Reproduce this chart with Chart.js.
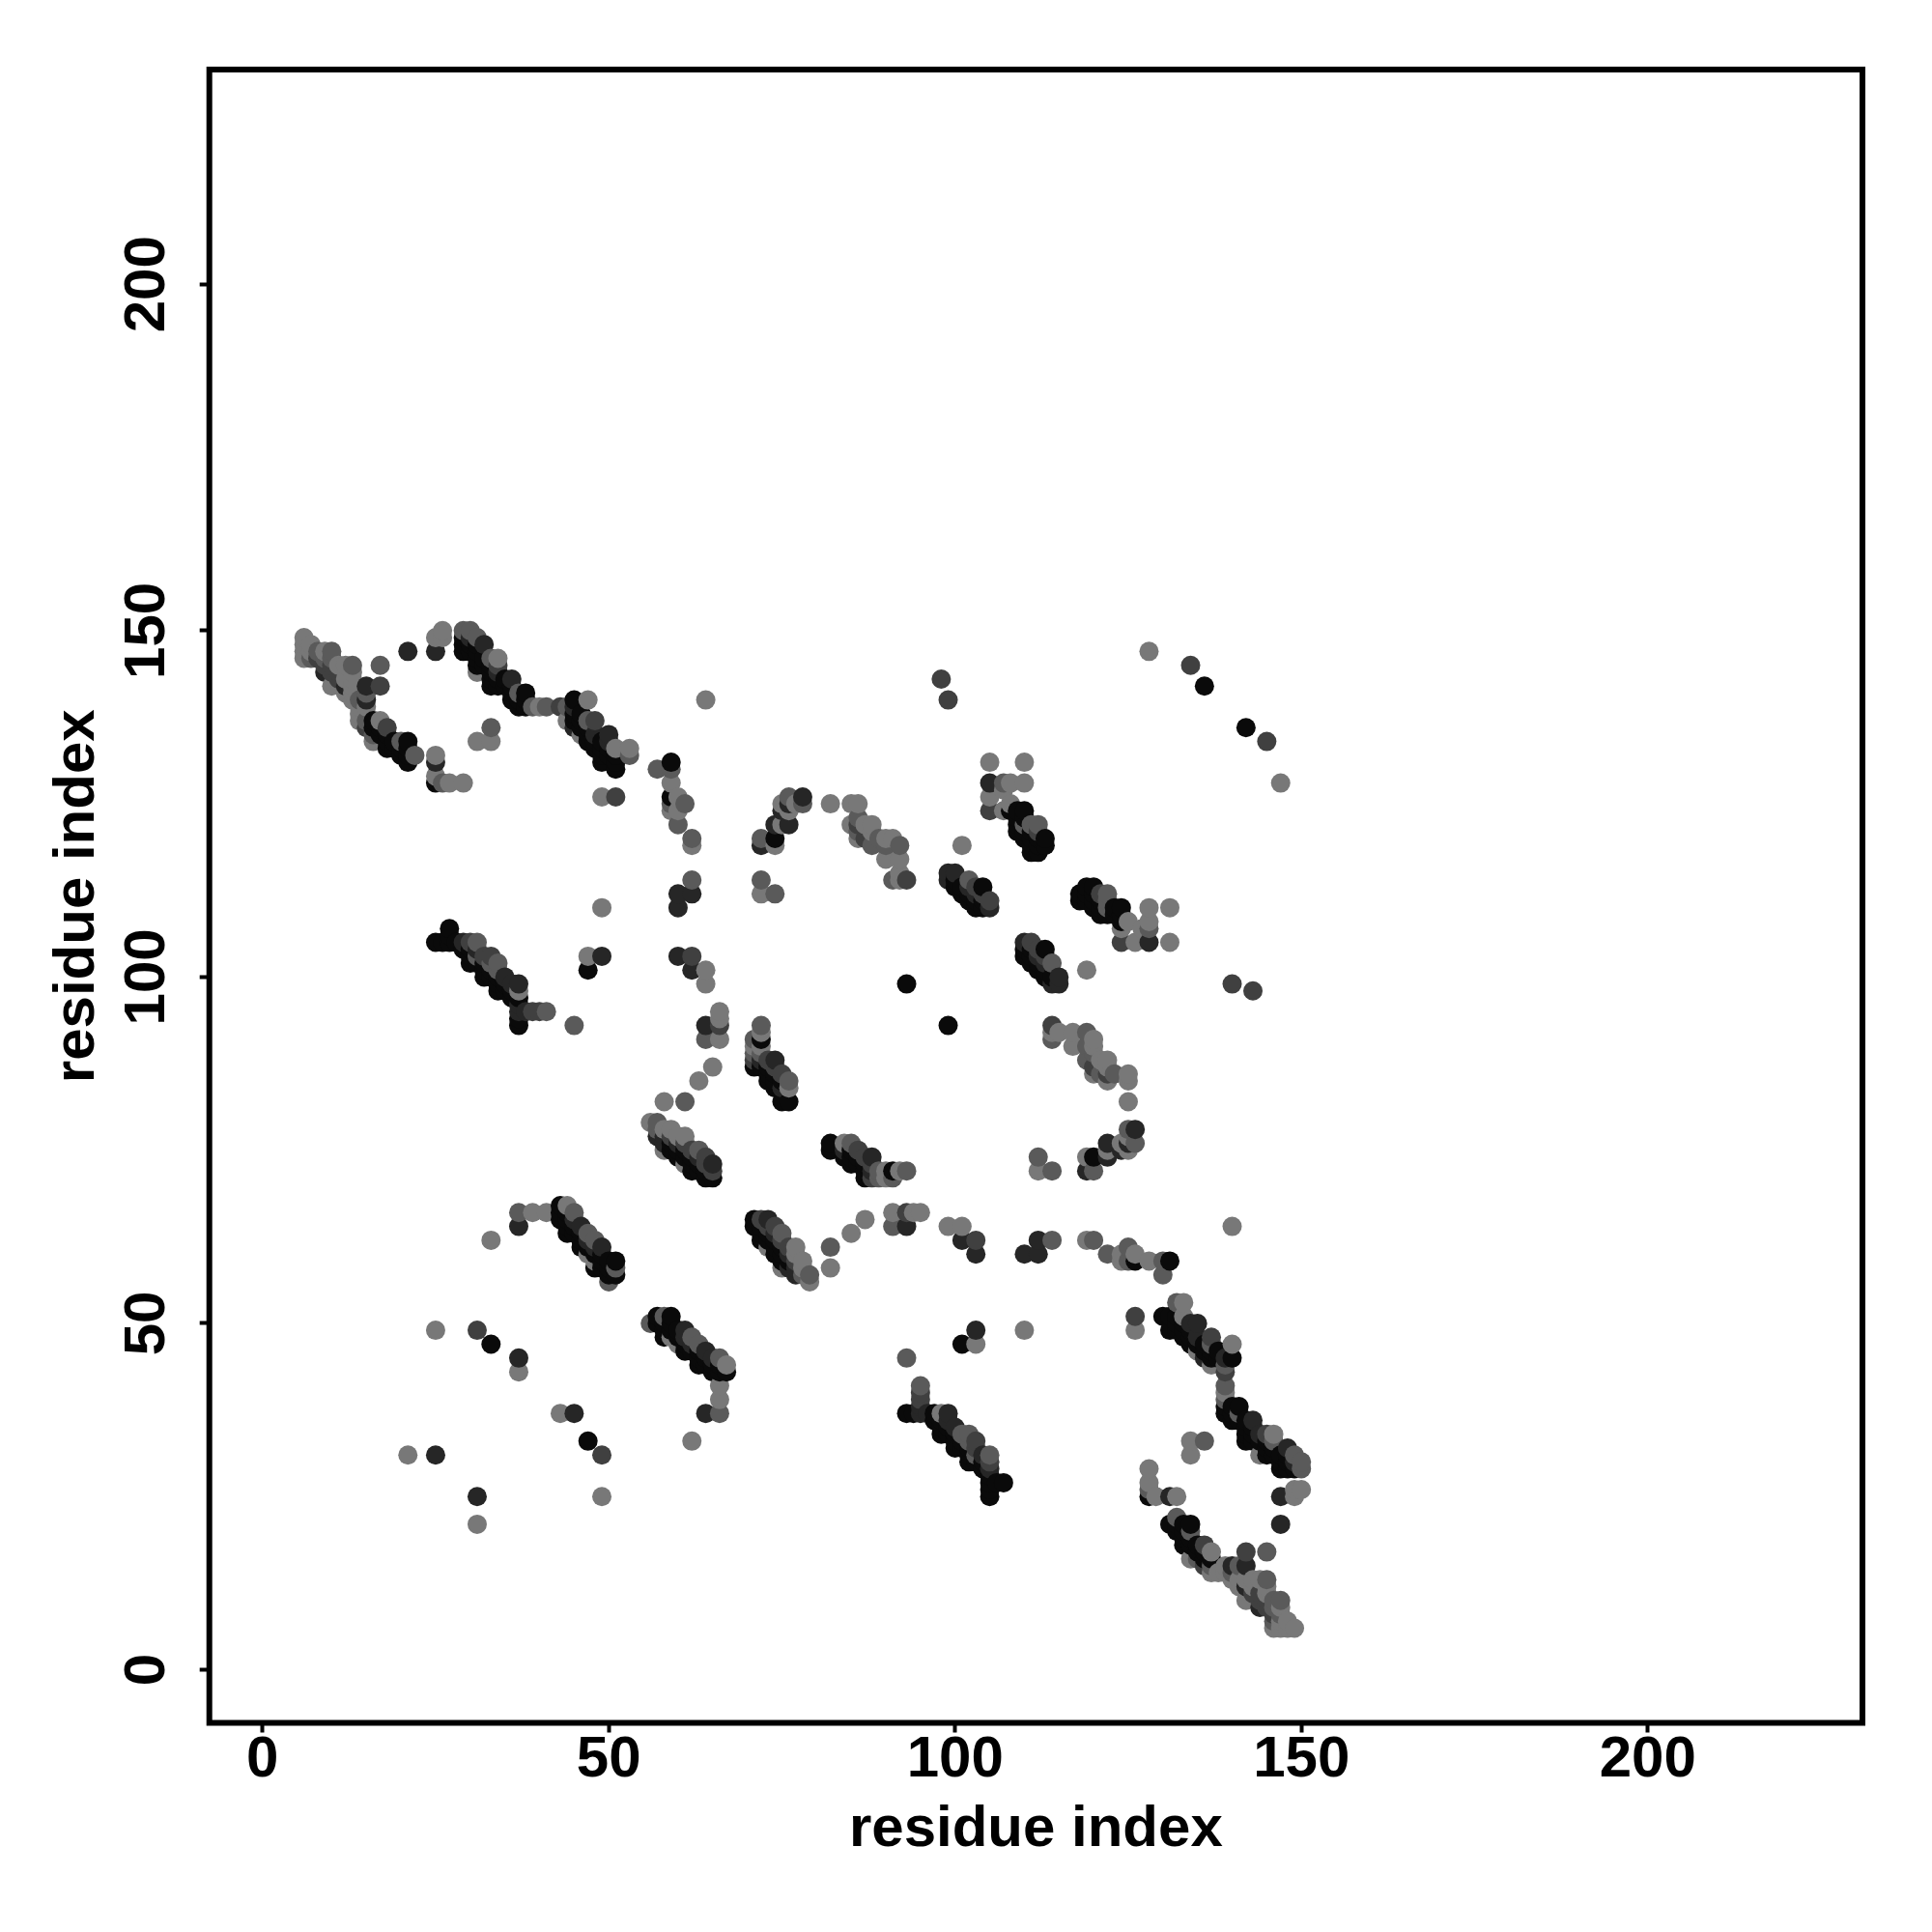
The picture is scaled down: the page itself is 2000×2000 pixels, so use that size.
<!DOCTYPE html>
<html>
<head>
<meta charset="utf-8">
<title>residue contacts</title>
<script src="https://cdn.jsdelivr.net/npm/chart.js@4/dist/chart.umd.min.js"></script>
<style>
  html, body { margin: 0; padding: 0; background: #fff; }
</style>
</head>
<body>
<canvas id="contactChart" width="2000" height="2000" style="display:block"></canvas>
<script>
const contactsBlack = [
  16,136, 16,137, 17,135, 17,136, 18,133, 18,134, 18,135, 19,133, 19,134, 20,132, 20,133, 21,131, 21,132, 21,133, 21,134, 25,128,
  29,147, 29,148, 29,149, 30,147, 30,148, 31,145, 31,146, 31,147, 31,148, 32,145, 32,146, 33,142, 33,143, 33,144, 33,145,
  34,142, 34,143, 35,142, 35,143, 36,140, 36,141, 36,142, 37,139, 37,140, 38,139, 38,140, 38,141, 45,137, 45,138, 45,140,
  46,136, 46,137, 46,138, 47,134, 47,135, 47,136, 48,133, 48,134, 49,131, 49,132, 49,133, 49,134, 50,132, 50,133, 51,130, 51,131, 51,132,
  25,105, 26,105, 27,105, 27,106, 27,107, 28,105, 29,104, 30,104, 30,103, 30,102, 31,102, 32,102, 32,101, 33,101, 32,100, 33,100, 34,100,
  34,99, 35,99, 34,98, 35,98, 36,97, 36,98, 37,97, 37,93, 37,94, 47,101, 33,47,
  43,65, 43,66, 43,67, 44,63, 44,64, 44,65, 44,66, 45,63, 45,64, 46,61, 46,62, 46,63, 47,61, 48,58, 48,60, 49,58, 49,59, 49,60, 50,57, 50,58, 50,59, 51,57, 51,59,
  59,75, 59,76, 60,74, 60,75, 61,74, 61,75, 62,72, 62,73, 62,74, 63,72, 63,73, 64,71, 64,72, 65,71,
  71,87, 72,87, 72,91, 73,85, 73,86, 73,87, 74,84, 74,85, 74,86, 75,82, 75,85, 76,82, 59,126, 59,131, 74,120, 93,99,
  100,113, 100,114, 101,112, 101,113, 102,111, 102,112, 103,110, 103,111, 104,110, 104,111, 104,113,
  108,124, 109,121, 109,122, 109,123, 109,124, 110,120, 110,121, 110,123, 110,124, 111,118, 111,119, 111,120, 111,121, 112,118, 112,119, 112,120, 113,119, 113,120, 136,142
];
const contactsDark = [
  12,142, 9,144, 15,140, 15,142, 25,131, 25,147, 30,149, 32,148, 34,144, 36,143, 45,136, 45,139, 48,135, 50,134, 50,135,
  29,105, 31,104, 35,100, 36,99, 37,99, 37,95, 37,96, 38,95, 49,103, 25,31, 37,45, 21,147,
  45,65, 46,64, 47,62, 48,61, 49,61, 37,64, 57,77, 58,77, 58,76, 60,76, 63,74, 65,73,
  72,88, 74,88, 75,84, 60,103, 60,110, 60,112, 62,112, 62,101, 64,93,
  72,119, 74,122, 75,124, 76,122, 76,125, 78,126, 99,114, 99,115, 100,115, 102,113, 103,112, 105,110, 105,128
];
const contactsMid = [
  9,145, 10,144, 10,145, 8,146, 11,143, 11,144, 15,136, 17,142, 18,136, 34,145, 43,139, 47,137, 48,137, 51,126,
  30,105, 32,103, 33,103, 39,95, 40,95, 31,49, 59,77, 61,76, 62,75, 64,73, 64,74, 65,72,
  71,88, 73,88, 74,87, 75,86, 62,103, 66,93, 86,122, 87,120, 93,114, 98,143, 99,140,
  103,113, 104,112, 105,111, 105,124, 112,121, 134,145
];
const contactsGrey = [
  7,146, 8,147, 9,146, 10,146, 10,147, 13,145, 14,140, 15,137, 15,141, 16,135, 17,145, 20,134, 22,132, 26,128, 33,136,
  29,150, 30,150, 31,149, 33,146, 37,141, 39,139, 41,139, 44,139, 47,137, 53,132,
  31,105, 31,103, 33,102, 34,101, 34,102, 41,95, 45,93, 37,66, 45,66, 47,63, 48,62, 50,56, 51,58,
  57,79, 57,78, 63,75, 71,89, 71,91, 72,89, 72,93, 76,85, 57,130, 59,130, 59,125, 60,122, 61,125, 62,114, 62,120, 61,82, 64,91,
  72,114, 72,120, 74,112, 76,126, 78,125, 86,121, 86,123, 88,119, 89,120, 90,119, 91,114, 92,119, 102,114, 107,128, 110,122, 111,122, 112,122
];
const contactsLight = [
  6,146, 6,147, 6,148, 6,149, 7,147, 7,148, 9,147, 10,142, 11,145, 12,141, 12,143, 12,145, 13,140, 13,141, 13,142, 13,143, 13,144,
  14,137, 14,138, 14,139, 15,139, 16,134, 17,137, 21,31, 25,49, 25,129, 25,132, 25,149, 26,149, 26,150, 27,128, 29,128, 31,134, 31,144, 33,134,
  34,146, 40,139, 44,137, 46,135, 47,140, 49,126, 51,133, 53,133, 37,43, 37,98, 39,66, 41,66, 44,67, 47,60, 48,59, 33,62, 49,110, 47,103, 64,140,
  56,79, 58,78, 58,75, 59,78, 60,77, 61,77, 61,73, 71,90, 72,90, 72,92, 76,84, 58,82, 63,85, 65,87, 64,99, 64,101, 66,91, 66,94, 66,95,
  59,124, 59,128, 60,124, 60,126, 62,119, 72,112, 74,119, 75,122, 75,125, 76,124, 77,125, 82,125, 85,122, 85,125, 86,120, 86,125, 87,122,
  88,121, 88,122, 90,117, 90,120, 91,120, 92,114, 92,115, 92,117, 101,119, 105,126, 105,131, 107,124, 107,127, 108,125, 108,128, 110,128, 110,131, 128,147
];
const shadeLevels = [
  [contactsBlack, '#0a0a0a'],
  [contactsDark, '#262626'],
  [contactsMid, '#404040'],
  [contactsGrey, '#5a5a5a'],
  [contactsLight, '#787878']
];
const tickValues = [0, 50, 100, 150, 200];

// both triangles, drawn left to right, bottom to top like the original plot
const points = [];
shadeLevels.forEach(([pairs, shade]) => {
  for (let k = 0; k < pairs.length; k += 2) {
    points.push({ x: pairs[k], y: pairs[k + 1], shade });
    points.push({ x: pairs[k + 1], y: pairs[k], shade });
  }
});
points.sort((a, b) => a.x - b.x || a.y - b.y);

const frame = {
  id: 'frame',
  afterDraw(chart) {
    const { left, top, width, height } = chart.chartArea;
    const c = chart.ctx;
    c.save();
    c.strokeStyle = '#000';
    c.lineWidth = 6;
    c.strokeRect(left, top, width, height);
    c.restore();
  }
};

const font = { family: '"Liberation Sans", Arial, sans-serif', size: 60, weight: 'bold' };

const axis = (extra) => ({
  type: 'linear',
  min: -7.67,
  max: 231,
  afterBuildTicks(scale) { scale.ticks = tickValues.map(v => ({ value: v })); },
  grid: { drawOnChartArea: false, drawTicks: true, tickLength: 10, tickWidth: 4, tickColor: '#000' },
  border: { display: false },
  ...extra
});

new Chart(document.getElementById('contactChart').getContext('2d'), {
  type: 'scatter',
  data: {
    datasets: [{
      data: points,
      pointBackgroundColor: points.map(p => p.shade),
      pointBorderWidth: 0,
      pointRadius: 10,
      pointHoverRadius: 10
    }]
  },
  options: {
    responsive: false,
    animation: false,
    layout: { padding: { top: 72, right: 72, left: 0, bottom: 0 } },
    plugins: { legend: { display: false }, tooltip: { enabled: false } },
    scales: {
      x: axis({
        afterFit(scale) { scale.height = 216.5; },
        ticks: { color: '#000', font, padding: -7, maxRotation: 0, autoSkip: false },
        title: { display: true, text: 'residue index', color: '#000', font, padding: { top: 70, bottom: 70 } }
      }),
      y: axis({
        afterFit(scale) { scale.width = 216.7; },
        ticks: { color: '#000', font, padding: 3, minRotation: 90, maxRotation: 90, crossAlign: 'center', autoSkip: false },
        title: { display: true, text: 'residue index', color: '#000', font, padding: { top: 44, bottom: 44 } }
      })
    }
  },
  plugins: [frame]
});
</script>
</body>
</html>
